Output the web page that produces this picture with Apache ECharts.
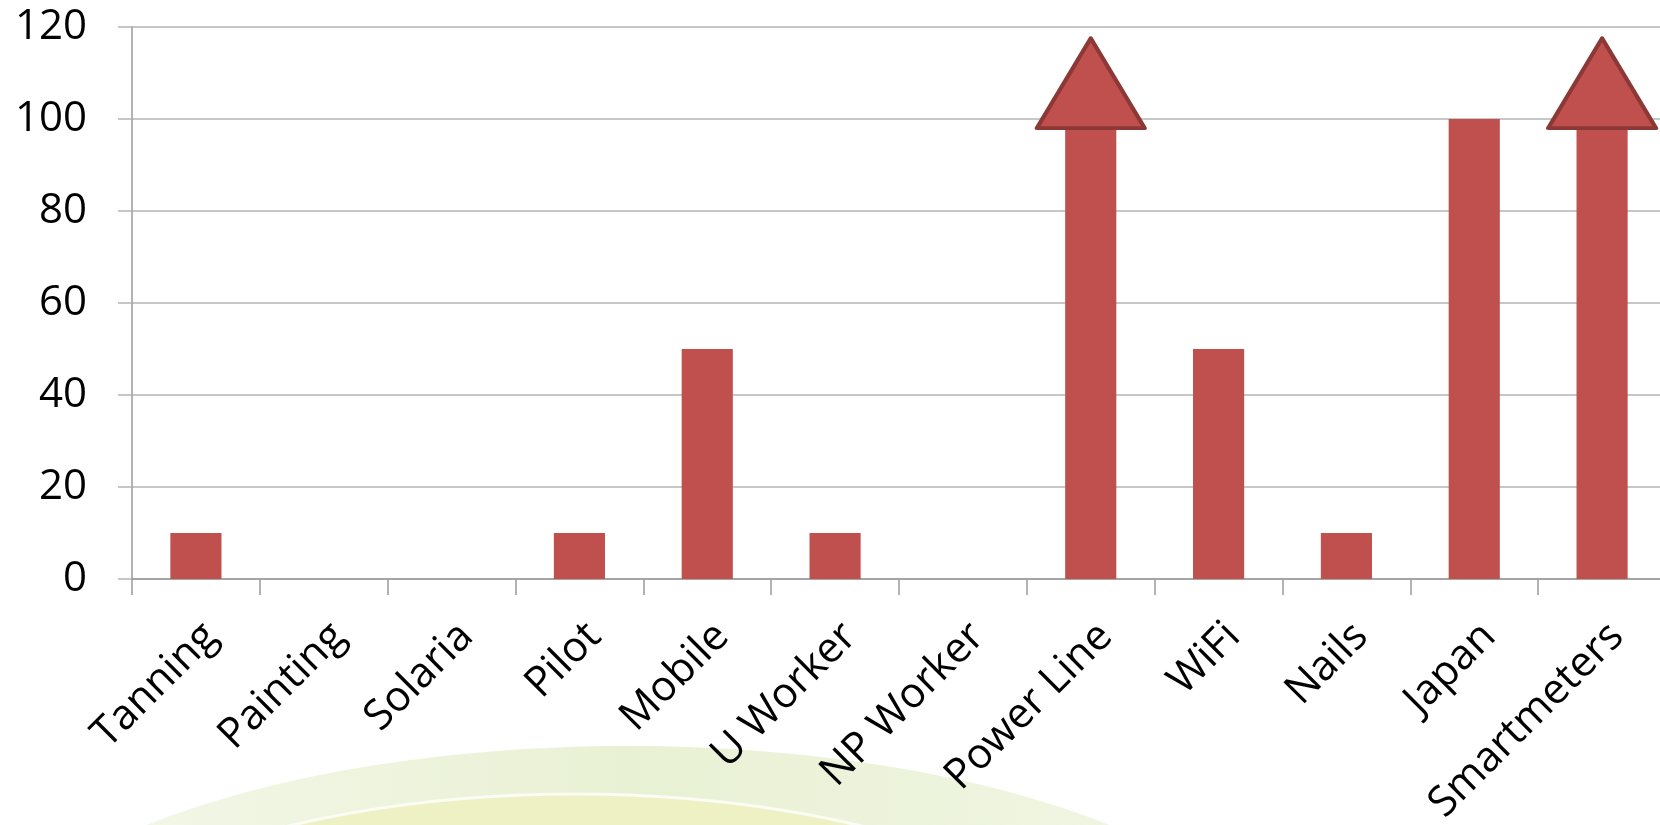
<!DOCTYPE html>
<html><head><meta charset="utf-8">
<script src="https://cdn.jsdelivr.net/npm/echarts@6/dist/echarts.min.js"></script>
<style>html,body{margin:0;padding:0;background:#fff}#c{width:1660px;height:825px}</style>
</head><body><div id="c"></div>
<script>
const categories = ['Tanning','Painting','Solaria','Pilot','Mobile','U Worker','NP Worker','Power Line','WiFi','Nails','Japan','Smartmeters'];
const values = [10, 0, 0, 10, 50, 10, 0, 100, 50, 10, 100, 100];
const arrowCategories = ['Power Line', 'Smartmeters'];
const arrowBaseValues = [98, 98];
const yMin = 0, yMax = 120, yStep = 20;

const chart = echarts.init(document.getElementById('c'), null, {renderer: 'canvas'});
const FONT = '"Open Sans", "Noto Sans", sans-serif';
chart.setOption({
  animation: false,
  backgroundColor: '#ffffff',
  graphic: [
    {type: 'ellipse', z: -10, silent: true,
     shape: {cx: 628, cy: 1010, rx: 675, ry: 264},
     style: {fill: new echarts.graphic.LinearGradient(0, 0, 1, 0, [
       {offset: 0, color: '#f6f9ee'}, {offset: 0.5, color: '#e9f1d4'}, {offset: 1, color: '#f2f7e6'}])}},
    {type: 'ellipse', z: -9, silent: true,
     shape: {cx: 575, cy: 1040, rx: 580, ry: 246},
     style: {fill: '#edf1c4', stroke: '#fbfcf4', lineWidth: 3}}
  ],
  grid: {left: 132, right: -6, top: 27, bottom: 246, containLabel: false, outerBoundsMode: 'none'},
  xAxis: {
    type: 'category',
    data: categories,
    axisLine: {lineStyle: {color: '#9a9a9a', width: 1.5}},
    axisTick: {show: true, length: 16, lineStyle: {color: '#9a9a9a', width: 1.5}},
    axisLabel: {rotate: 45, margin: 36, verticalAlign: 'top', color: '#000', fontFamily: FONT, fontSize: 42, interval: 0},
    splitLine: {show: false}
  },
  yAxis: {
    type: 'value', min: yMin, max: yMax, interval: yStep,
    axisLine: {show: true, lineStyle: {color: '#9a9a9a', width: 1.5}},
    axisTick: {show: true, length: 14, lineStyle: {color: '#b4b4b4', width: 1.5}},
    axisLabel: {margin: 45, color: '#000', fontFamily: FONT, fontSize: 42},
    splitLine: {show: true, lineStyle: {color: '#b4b4b4', width: 1.5}}
  },
  series: [
    {type: 'bar', data: values, barWidth: '40%',
     itemStyle: {color: '#C0504D', borderWidth: 0}},
    {type: 'scatter', z: 5,
     data: arrowCategories.map((c, i) => [c, arrowBaseValues[i]]),
     symbol: 'triangle', symbolSize: [108, 90], symbolOffset: [0, '-50%'],
     itemStyle: {color: '#C0504D', opacity: 1, borderColor: '#8C3836', borderWidth: 4, borderJoin: 'round'}}
  ]
});
</script></body></html>
